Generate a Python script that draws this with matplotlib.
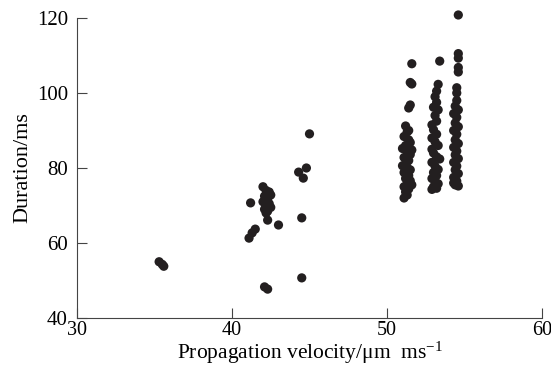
import matplotlib
matplotlib.use("Agg")
from matplotlib import pyplot as plt

plt.rcParams['font.family'] = ['Liberation Serif', 'DejaVu Serif']
plt.rcParams['mathtext.fontset'] = 'custom'
plt.rcParams['mathtext.rm'] = 'Liberation Serif'
plt.rcParams['mathtext.it'] = 'Liberation Serif:italic'

# outliers / small group near 35 and 42-45 um/ms
low_x = [35.3, 35.5, 35.6, 42.1, 42.3, 44.5, 44.5, 45.0, 44.3, 44.8, 44.6, 43.0]
low_y = [55.0, 54.3, 53.8, 48.3, 47.7, 50.7, 66.7, 89.1, 78.9, 80.0, 77.3, 64.8]

cluster_x = [41.2, 42.0, 42.4, 42.1, 42.3, 42.0, 42.4, 42.2, 42.5, 42.1,
             42.3, 42.2, 42.3, 41.1, 41.3, 41.5, 42.2, 42.5]
cluster_y = [70.7, 75.0, 73.6, 72.5, 71.8, 71.0, 70.5, 70.0, 69.5, 69.0,
             68.5, 68.0, 66.1, 61.3, 62.7, 63.7, 74.0, 72.8]

col1_x = [51.6, 51.6, 51.5, 51.5, 51.4, 51.2, 51.3, 51.1, 51.4, 51.2,
          51.0, 51.3, 51.5, 51.1, 51.4, 51.2, 51.3, 51.5, 51.1, 51.4,
          51.2, 51.5, 51.3, 51.1, 51.4, 51.2, 51.3, 51.1, 51.5, 51.4,
          51.6, 51.0, 51.6]
col1_y = [107.8, 102.4, 102.8, 96.8, 96.0, 91.2, 89.6, 88.4, 87.5, 86.0,
          85.2, 84.4, 83.6, 82.8, 82.0, 81.0, 80.2, 79.5, 78.8, 78.0,
          77.2, 76.6, 75.8, 75.0, 74.4, 73.6, 72.8, 72.0, 86.8, 90.0,
          84.8, 80.6, 75.5]

col2_x = [53.4, 53.3, 53.2, 53.1, 53.2, 53.0, 53.3, 53.1, 53.2, 52.9,
          53.0, 53.2, 52.9, 53.1, 53.3, 52.9, 53.0, 53.2, 53.4, 52.9,
          53.1, 53.3, 53.0, 53.2, 52.9, 53.1, 53.3, 53.0, 53.2, 52.9]
col2_y = [108.5, 102.3, 100.5, 99.0, 97.5, 96.2, 95.5, 94.0, 92.5, 91.5,
          90.2, 89.0, 88.0, 87.0, 86.0, 85.0, 84.0, 83.0, 82.4, 81.5,
          80.5, 79.6, 78.8, 78.0, 77.2, 76.5, 75.8, 75.0, 74.6, 74.3]

col3_x = [54.6, 54.6, 54.6, 54.6, 54.6, 54.5, 54.5, 54.5, 54.4, 54.6,
          54.3, 54.5, 54.4, 54.6, 54.3, 54.5, 54.4, 54.6, 54.3, 54.5,
          54.4, 54.6, 54.3, 54.5, 54.4, 54.6, 54.3, 54.5, 54.4, 54.6,
          54.3]
col3_y = [120.8, 110.5, 109.3, 106.8, 105.6, 101.4, 100.0, 98.0, 96.5, 95.5,
          94.5, 93.5, 92.0, 91.0, 90.0, 89.0, 87.5, 86.5, 85.5, 84.5,
          83.5, 82.5, 81.5, 80.5, 79.5, 78.5, 77.5, 76.5, 75.5, 75.2,
          76.0]

xs = low_x + cluster_x + col1_x + col2_x + col3_x
ys = low_y + cluster_y + col1_y + col2_y + col3_y

fig = plt.figure(figsize=(5.51, 3.67), dpi=100)
ax = fig.add_axes([0.1397, 0.1335, 0.844, 0.8175])

ax.scatter(xs, ys, s=44, color='#231f20', edgecolors='none', zorder=3, clip_on=False)

ax.set_xlim(30, 60)
ax.set_ylim(40, 120)
ax.set_xticks([30, 40, 50, 60])
ax.set_yticks([40, 60, 80, 100, 120])

for side in ['top', 'right']:
    ax.spines[side].set_visible(False)
for side in ['left', 'bottom']:
    ax.spines[side].set_linewidth(0.8)
    ax.spines[side].set_color('#444444')

ax.tick_params(axis='y', direction='in', length=7, width=0.8, color='#444444',
               labelsize=15, pad=6.5)
ax.tick_params(axis='x', direction='in', length=7, width=0.8, color='#444444',
               labelsize=14.5, pad=2)

ax.set_xlabel(r'Propagation velocity/$\mathrm{\mu}$m  ms$^{-1}$', fontsize=15.5, labelpad=0)
ax.set_ylabel('Duration/ms', fontsize=16, labelpad=3)

fig.savefig('out.png', dpi=100)
